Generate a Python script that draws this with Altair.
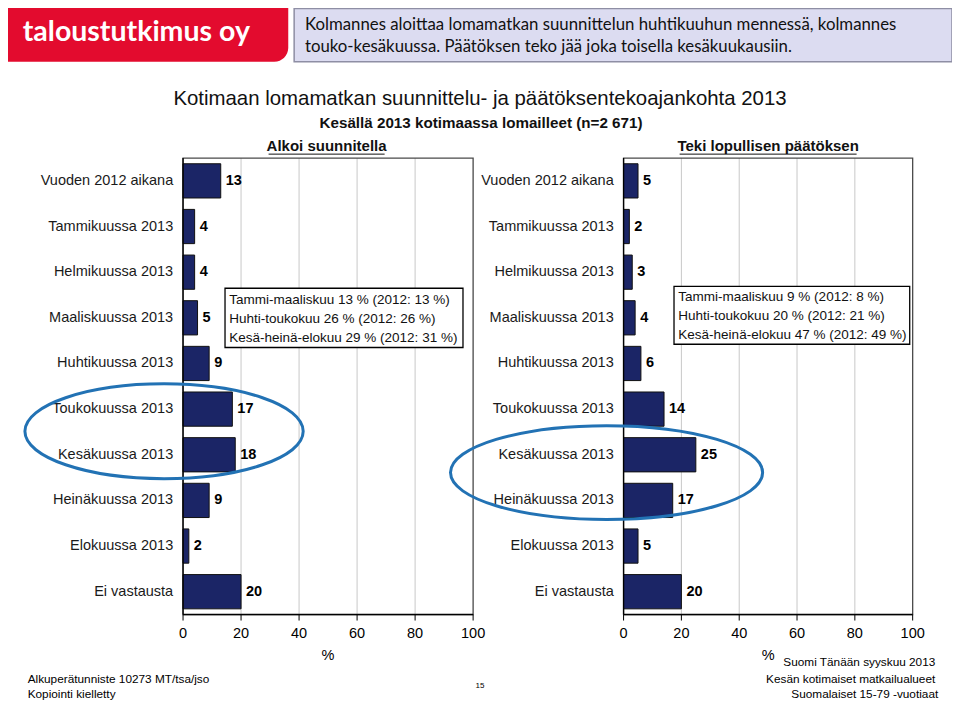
import altair as alt
import pandas as pd

# ---------------- data ----------------
categories = ["Vuoden 2012 aikana", "Tammikuussa 2013", "Helmikuussa 2013",
              "Maaliskuussa 2013", "Huhtikuussa 2013", "Toukokuussa 2013",
              "Kesäkuussa 2013", "Heinäkuussa 2013", "Elokuussa 2013", "Ei vastausta"]
started = [13, 4, 4, 5, 9, 17, 18, 9, 2, 20]
decided = [5, 2, 3, 4, 6, 14, 25, 17, 5, 20]
tick_values = [0, 20, 40, 60, 80, 100]
grid_values = [20, 40, 60, 80]

title_text = "Kotimaan lomamatkan suunnittelu- ja päätöksentekoajankohta 2013"
subtitle_text = "Kesällä 2013 kotimaassa lomailleet (n=2 671)"
left_header = "Alkoi suunnitella"
right_header = "Teki lopullisen päätöksen"
axis_title = "%"
left_note = ["Tammi-maaliskuu 13 % (2012: 13 %)", "Huhti-toukokuu 26 % (2012: 26 %)",
             "Kesä-heinä-elokuu 29 % (2012: 31 %)"]
right_note = ["Tammi-maaliskuu 9 % (2012: 8 %)", "Huhti-toukokuu 20 % (2012: 21 %)",
              "Kesä-heinä-elokuu 47 % (2012: 49 %)"]
logo_text = "taloustutkimus oy"
lead_lines = ["Kolmannes aloittaa lomamatkan suunnittelun huhtikuuhun mennessä, kolmannes",
              "touko-kesäkuussa. Päätöksen teko jää joka toisella kesäkuukausiin."]
footer_left = ["Alkuperätunniste 10273 MT/tsa/jso", "Kopiointi kielletty"]
footer_right = ["Suomi Tänään syyskuu 2013", "Kesän kotimaiset matkailualueet",
                "Suomalaiset 15-79 -vuotiaat"]
page_number = "15"

# ---------------- layout helpers ----------------
W, H = 944, 695
SX, SY = W / 960, H / 711


def px(x):
    return x * SX


def py(y):
    return y * SY


ARIAL = "Liberation Sans"
CAL = "Lato"
BAR_FILL = "#1b2566"
ELLIPSE = "#2272b4"

Y_TOP, Y_BOT = py(153.5), py(620.5)


def text_layer(txt, x, y, size, font=ARIAL, align="left", weight="normal",
               color="#000000", baseline="middle"):
    return alt.Chart(pd.DataFrame({"t": [txt]})).mark_text(
        align=align, baseline=baseline, fontSize=size, font=font,
        fontWeight=weight, color=color
    ).encode(x=alt.value(x), y=alt.value(y), text="t:N")


def rect_layer(x0, x1, y0, y1, **kw):
    return alt.Chart(pd.DataFrame({"r": [0]})).mark_rect(**kw).encode(
        x=alt.value(x0), x2=alt.value(x1), y=alt.value(y0), y2=alt.value(y1))


def rule_layer(x0, x1, y0, y1, color="#000000", width=1):
    return alt.Chart(pd.DataFrame({"r": [0]})).mark_rule(
        color=color, strokeWidth=width).encode(
        x=alt.value(x0), x2=alt.value(x1), y=alt.value(y0), y2=alt.value(y1))


def ellipse_layer(cx, cy, rx, ry):
    k = ry / rx
    c = 0.5523
    path = (f"M -1 0 C -1 {-k*c:.4f} {-c:.4f} {-k:.4f} 0 {-k:.4f} "
            f"C {c:.4f} {-k:.4f} 1 {-k*c:.4f} 1 0 "
            f"C 1 {k*c:.4f} {c:.4f} {k:.4f} 0 {k:.4f} "
            f"C {-c:.4f} {k:.4f} -1 {k*c:.4f} -1 0 Z")
    return alt.Chart(pd.DataFrame({"e": [0]})).mark_point(
        shape=path, size=(2 * rx) ** 2, filled=False, stroke=ELLIPSE,
        strokeWidth=3, opacity=1
    ).encode(x=alt.value(cx), y=alt.value(cy))


def panel(values, x0_ref, x1_ref, label_right_ref):
    x0, x1 = px(x0_ref), px(x1_ref)
    df = pd.DataFrame({"cat": categories, "value": values})
    ticks_df = pd.DataFrame({"value": tick_values})
    xs = alt.Scale(domain=[0, 100], range=[x0, x1], nice=False)
    ys = alt.Scale(domain=categories, range=[Y_TOP, Y_BOT],
                   paddingInner=0.25, paddingOuter=0.125)
    x = alt.X("value:Q", scale=xs, axis=None)
    y = alt.Y("cat:N", scale=ys, axis=None)

    grid = alt.Chart(pd.DataFrame({"value": grid_values})).mark_rule(
        color="#c8c8c8", strokeWidth=1
    ).encode(x=x, y=alt.value(Y_TOP), y2=alt.value(Y_BOT))
    frame = rect_layer(x0, x1, Y_TOP, Y_BOT, fillOpacity=0, stroke="#4a4a4a",
                       strokeWidth=1.3)
    bars = alt.Chart(df).mark_bar(color=BAR_FILL, stroke="#111111",
                                  strokeWidth=1).encode(x=x, y=y)
    vals = alt.Chart(df).mark_text(align="left", baseline="middle", dx=5,
                                   fontSize=14.5, fontWeight="bold", font=ARIAL,
                                   color="#000000").encode(x=x, y=y, text="value:Q")
    cats = alt.Chart(df).mark_text(align="right", baseline="middle", fontSize=14.5,
                                   font=ARIAL, color="#1a1a1a").encode(
        x=alt.value(px(label_right_ref)), y=y, text="cat:N")
    left_line = rule_layer(x0, x0, Y_TOP, Y_BOT, color="#000000", width=1.3)
    # bottom axis drawn through the same x scale
    domain = rule_layer(x0, x1, Y_BOT, Y_BOT, color="#000000", width=1.5)
    ticks = alt.Chart(ticks_df).mark_rule(color="#000000", strokeWidth=1).encode(
        x=x, y=alt.value(Y_BOT), y2=alt.value(Y_BOT + 6))
    tick_labels = alt.Chart(ticks_df).mark_text(
        baseline="middle", align="center", fontSize=14.5, font=ARIAL, color="#000000"
    ).encode(x=x, y=alt.value(py(640)), text=alt.Text("value:Q", format="d"))
    title = text_layer(axis_title, (x0 + x1) / 2, py(663), 14.5, align="center")
    return alt.layer(grid, frame, bars, left_line, domain, ticks, tick_labels,
                     vals, cats, title)


left_panel = panel(started, 178, 473, 168)
right_panel = panel(decided, 626, 920, 616)

layers = [left_panel, right_panel]

# header
layers.append(rect_layer(0, px(285), 0, py(55), color="#e30b2e",
                         cornerRadiusBottomRight=14))
layers.append(text_layer(logo_text, px(15), py(25), 28.5, font=CAL, weight="bold",
                         color="#ffffff"))
layers.append(rect_layer(px(291), px(960), 0.5, py(55), color="#dcdcf1",
                         stroke="#8e8ea4", strokeWidth=1.5))
layers.append(text_layer(lead_lines[0], px(302), py(17), 16.8, font=CAL, color="#111111"))
layers.append(text_layer(lead_lines[1], px(302), py(40), 16.8, font=CAL, color="#111111"))

# titles
layers.append(text_layer(title_text, px(480), py(93), 20.4, align="center", color="#111111"))
layers.append(text_layer(subtitle_text, px(481), py(118), 15.2, align="center",
                         weight="bold", color="#111111"))
layers.append(text_layer(left_header, px(324), py(141), 15, align="center",
                         weight="bold", color="#111111"))
layers.append(text_layer(right_header, px(773), py(141), 15, align="center",
                         weight="bold", color="#111111"))
layers.append(rule_layer(px(265), px(383), py(149.5), py(149.5), color="#111111", width=1))
layers.append(rule_layer(px(683), px(863), py(149.5), py(149.5), color="#111111", width=1))

# note boxes
layers.append(rect_layer(px(220.7), px(462.7), py(286.7), py(347.3), color="#ffffff",
                         stroke="#000000", strokeWidth=1.3))
for i, ln in enumerate(left_note):
    layers.append(text_layer(ln, px(225), py(299 + 19.2 * i), 13.5, color="#111111"))
layers.append(rect_layer(px(677.3), px(917), py(284.7), py(344), color="#ffffff",
                         stroke="#000000", strokeWidth=1.3))
for i, ln in enumerate(right_note):
    layers.append(text_layer(ln, px(681.7), py(296 + 19.2 * i), 13.5, color="#111111"))

# footer
layers.append(text_layer(footer_left[0], px(20), py(686), 11.8))
layers.append(text_layer(footer_left[1], px(20), py(702), 11.8))
layers.append(text_layer(page_number, px(480), py(694), 8, align="center"))
layers.append(text_layer(footer_right[0], px(943), py(669), 11.8, align="right"))
layers.append(text_layer(footer_right[1], px(943), py(686), 11.8, align="right"))
layers.append(text_layer(footer_right[2], px(946), py(702), 11.8, align="right"))

# highlight ellipses
layers.append(ellipse_layer(px(158.7), py(433), px(141.5), py(48.5)))
layers.append(ellipse_layer(px(608.7), py(475.3), px(158.7), py(48)))

chart = alt.layer(*layers).resolve_scale(x="independent").properties(
    width=W, height=H, autosize=alt.AutoSizeParams(type="none"), padding=0,
    background="white"
).configure_view(stroke=None)

chart.save("out.html", embed_options={"renderer": "svg", "actions": False})
